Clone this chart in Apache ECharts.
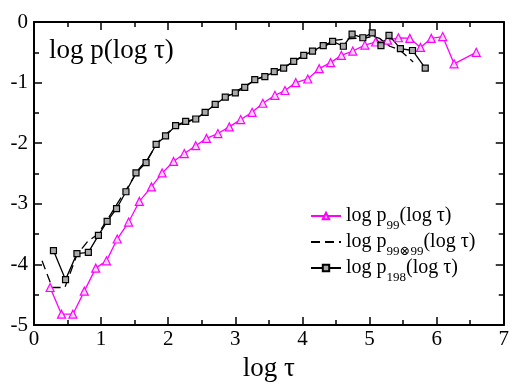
<!DOCTYPE html>
<html>
<head>
<meta charset="utf-8">
<script src="https://cdn.jsdelivr.net/npm/echarts@6/dist/echarts.min.js"></script>
<style>
  html, body { margin: 0; padding: 0; background: #fff; }
  #chart { width: 512px; height: 387px; }
</style>
</head>
<body>
<div id="chart"></div>
<script>
// log p99(log tau) - magenta triangles
var p99X = [0.24, 0.41, 0.58, 0.75, 0.92, 1.08, 1.24, 1.41, 1.57, 1.75, 1.91, 2.08, 2.24, 2.41, 2.57, 2.74, 2.91, 3.08, 3.25, 3.41, 3.59, 3.74, 3.90, 4.08, 4.25, 4.42, 4.58, 4.75, 4.93, 5.09, 5.27, 5.43, 5.60, 5.76, 5.92, 6.09, 6.26, 6.59]
var p99Y = [-4.38, -4.82, -4.82, -4.44, -4.06, -3.94, -3.58, -3.30, -2.96, -2.72, -2.49, -2.30, -2.17, -2.04, -1.92, -1.84, -1.73, -1.61, -1.49, -1.34, -1.21, -1.13, -1.00, -0.94, -0.77, -0.67, -0.55, -0.48, -0.38, -0.33, -0.30, -0.26, -0.27, -0.42, -0.27, -0.24, -0.69, -0.50]

// log p99(x)99(log tau) - dashed, no markers
var pConvX = [0.12, 0.22, 0.27, 0.46, 0.64, 0.80, 0.95, 1.10, 1.25, 1.40, 1.55, 1.70, 1.85, 2.00, 2.15, 2.30, 2.45, 2.60, 2.75, 2.90, 3.05, 3.20, 3.35, 3.50, 3.65, 3.80, 3.95, 4.10, 4.25, 4.40, 4.50, 4.65, 4.80, 4.95, 5.05, 5.15, 5.30, 5.45, 5.65]
var pConvY = [-3.94, -4.23, -4.38, -4.38, -3.84, -3.62, -3.50, -3.25, -2.98, -2.72, -2.44, -2.25, -1.98, -1.82, -1.70, -1.65, -1.57, -1.45, -1.31, -1.21, -1.12, -1.02, -0.93, -0.86, -0.79, -0.70, -0.60, -0.52, -0.44, -0.36, -0.30, -0.28, -0.27, -0.26, -0.24, -0.27, -0.40, -0.46, -0.66]

// log p198(log tau) - black squares
var p198X = [0.29, 0.47, 0.64, 0.81, 0.96, 1.09, 1.23, 1.37, 1.52, 1.67, 1.82, 1.96, 2.11, 2.26, 2.41, 2.55, 2.70, 2.85, 3.00, 3.14, 3.29, 3.44, 3.58, 3.72, 3.87, 4.02, 4.15, 4.31, 4.45, 4.61, 4.74, 4.90, 5.04, 5.17, 5.29, 5.46, 5.64, 5.83]
var p198Y = [-3.77, -4.25, -3.82, -3.80, -3.52, -3.29, -3.08, -2.80, -2.49, -2.32, -2.02, -1.88, -1.71, -1.64, -1.60, -1.49, -1.36, -1.24, -1.17, -1.08, -0.95, -0.90, -0.82, -0.76, -0.65, -0.55, -0.48, -0.39, -0.32, -0.40, -0.20, -0.26, -0.18, -0.39, -0.22, -0.44, -0.47, -0.76]

var xTicks = [0, 7, 1]
var yTicks = [-5, 0, 1]

function zip (xs, ys) {
  return xs.map(function (x, i) { return [x, ys[i]] })
}

var serif = '"Liberation Serif", "DejaVu Serif", serif'
var chart = echarts.init(document.getElementById('chart'))

var richText = {
  n: { fontSize: 20, fontFamily: serif, color: '#000', lineHeight: 32, verticalAlign: 'middle' },
  s: { fontSize: 13, fontFamily: serif, color: '#000', lineHeight: 14, verticalAlign: 'bottom' }
}

function axisBase (show) {
  return {
    axisLine: { show: true, onZero: false, lineStyle: { color: '#000', width: 2 } },
    axisTick: { show: true, inside: true, length: 8, lineStyle: { color: '#000', width: 1.5 } },
    minorTick: { show: true, splitNumber: 2, length: 5, lineStyle: { color: '#000', width: 1.5 } },
    splitLine: { show: false },
    axisLabel: { show: show, fontSize: 21, fontFamily: serif, color: '#000' }
  }
}

chart.setOption({
  backgroundColor: '#fff',
  animation: false,
  title: {
    text: 'log p(log τ)',
    left: 44,
    top: 32,
    textStyle: { fontSize: 27, fontFamily: serif, fontWeight: 'normal', color: '#000' }
  },
  legend: {
    orient: 'vertical',
    left: 305,
    top: 201,
    itemWidth: 30,
    itemHeight: 8,
    itemGap: 0,
    data: [
      { name: 'p99' },
      { name: 'pconv', itemStyle: { opacity: 0 } },
      { name: 'p198' }
    ],
    formatter: function (name) {
      if (name === 'p99') return '{n|log p}{s|99}{n|(log τ)}'
      if (name === 'pconv') return '{n|log p}{s|99⊗99}{n|(log τ)}'
      return '{n|log p}{s|198}{n|(log τ)}'
    },
    textStyle: { rich: richText }
  },
  grid: { left: 34, right: 3, top: 22, bottom: 46 },
  xAxis: [
    Object.assign(axisBase(true), {
      type: 'value', min: xTicks[0], max: xTicks[1], interval: xTicks[2],
      position: 'bottom',
      name: 'log τ', nameLocation: 'middle', nameGap: 26,
      nameTextStyle: { fontSize: 27, fontFamily: serif, color: '#000' },
      axisLabel: { fontSize: 21, fontFamily: serif, color: '#000', margin: 4 }
    }),
    Object.assign(axisBase(false), {
      type: 'value', min: xTicks[0], max: xTicks[1], interval: xTicks[2],
      position: 'top'
    })
  ],
  yAxis: [
    Object.assign(axisBase(true), {
      type: 'value', min: yTicks[0], max: yTicks[1], interval: yTicks[2],
      position: 'left',
      axisLabel: { fontSize: 21, fontFamily: serif, color: '#000', margin: 6 }
    }),
    Object.assign(axisBase(false), {
      type: 'value', min: yTicks[0], max: yTicks[1], interval: yTicks[2],
      position: 'right'
    })
  ],
  series: [
    {
      name: 'p99',
      type: 'line',
      data: zip(p99X, p99Y),
      symbol: 'triangle',
      symbolSize: 8,
      itemStyle: { color: '#ffd6ff', borderColor: '#ff00ff', borderWidth: 1.2 },
      lineStyle: { color: '#ff00ff', width: 1.3 }
    },
    {
      name: 'pconv',
      type: 'line',
      data: zip(pConvX, pConvY),
      symbol: 'none',
      itemStyle: { color: '#000' },
      lineStyle: { color: '#000', width: 1.3, type: [9, 5] }
    },
    {
      name: 'p198',
      type: 'line',
      data: zip(p198X, p198Y),
      symbol: 'rect',
      symbolSize: 6,
      itemStyle: { color: '#aaa', borderColor: '#000', borderWidth: 1.2 },
      lineStyle: { color: '#000', width: 1.3 }
    }
  ]
})
</script>
</body>
</html>
